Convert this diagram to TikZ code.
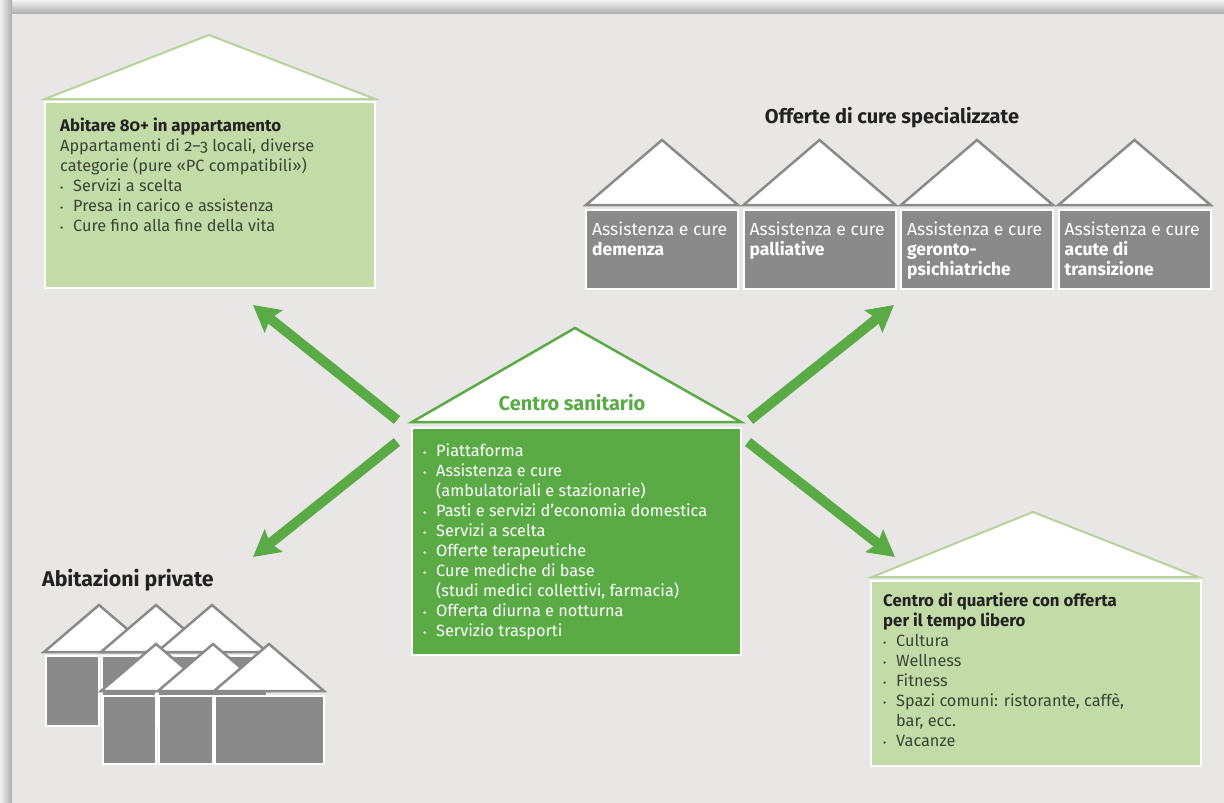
\documentclass[tikz,border=0pt]{standalone}
\usepackage{fontspec}
\setmainfont{Fira Sans}[Numbers=OldStyle]
\usetikzlibrary{arrows.meta,calc}
\definecolor{bgc}{HTML}{E8E7E5}
\definecolor{lgreen}{HTML}{C3DCA7}
\definecolor{lroofc}{HTML}{B5D39A}
\definecolor{dgreen}{HTML}{5AAB46}
\definecolor{grayc}{HTML}{8A8A8A}
\definecolor{bodytxt}{HTML}{3A4435}
\definecolor{titletxt}{HTML}{222222}
\newcommand{\bul}{\makebox[13pt][l]{\fontsize{10}{10}\selectfont\raisebox{0.5pt}{•}}}
\newcommand{\ind}{\hspace*{13pt}}
\newcommand{\grayhouse}[4]{%
  \node[gybox,minimum width=152pt,minimum height=79pt] (#1) at (#2,209) {};
  \draw[groof] ($(#1.north west)+(1,-4)$) -- ($(#1.north)+(0,-69)$) -- ($(#1.north east)+(-1,-4)$) -- cycle;
  \node[bodytext,text=white,font=\fontsize{17.5}{20}\selectfont] (#1txt) at ($(#1.north west)+(7,13)$) {Assistenza e cure\\\textbf{#3}\\\textbf{#4}};
}
\begin{document}
\begin{tikzpicture}[x=1pt,y=-1pt,
  lgbox/.style={fill=lgreen,draw=white,line width=2pt,rectangle,inner sep=0pt,anchor=north west},
  dgbox/.style={fill=dgreen,draw=white,line width=2pt,rectangle,inner sep=0pt,anchor=north west},
  gybox/.style={fill=grayc,draw=white,line width=2pt,rectangle,inner sep=0pt,anchor=north west},
  lroof/.style={fill=white,draw=lroofc,line width=2pt,line join=miter},
  droof/.style={fill=white,draw=dgreen,line width=2.5pt,line join=miter},
  groof/.style={fill=white,draw=grayc,line width=2.5pt,line join=miter},
  bodytext/.style={inner sep=0pt,anchor=north west,align=left,font=\fontsize{16.3}{20}\selectfont},
  bigtitle/.style={inner sep=0pt,font=\fontsize{20}{22}\selectfont\bfseries,text=titletxt},
  garrow/.style={draw=dgreen,line width=10pt,-{Stealth[length=26pt,width=28pt,inset=4pt]}}
]
\useasboundingbox (0,0) rectangle (1224,803);
% frame and background
\fill[bgc] (0,0) rectangle (1224,803);
\shade[top color=white!90!gray,bottom color=gray!65] (0,0) rectangle (1224,14);
\shade[left color=white!90!gray,right color=gray!65] (0,0) rectangle (12,803);
\fill[bgc] (12,14) rectangle (1224,803);

% ---------- Abitare 80+ ----------
\node[lgbox,minimum width=330pt,minimum height=186pt] (abit) at (44,101) {};
\coordinate (abitapex) at (209,35);
\draw[lroof] ($(abit.north west)+(1,-2)$) -- (abitapex) -- ($(abit.north east)+(-1,-2)$) -- cycle;
\node[bodytext,text=bodytxt] (abittxt) at (60,118)
 {{\fontsize{16.8}{20}\selectfont\bfseries\color{titletxt}Abitare 80+ in appartamento}\\
  Appartamenti di 2–3 locali, diverse\\
  categorie (pure «PC compatibili»)\\
  \bul Servizi a scelta\\
  \bul Presa in carico e assistenza\\
  \bul Cure fino alla fine della vita};

% ---------- Offerte di cure specializzate ----------
\node[bigtitle] (offtitle) at (892,118) {Offerte di cure specializzate};
\grayhouse{dem}{585}{demenza}{}
\grayhouse{pal}{742.5}{palliative}{}
\grayhouse{ger}{900}{geronto-}{psichiatriche}
\grayhouse{acu}{1057.5}{acute di}{transizione}

% ---------- Centro sanitario ----------
\node[dgbox,minimum width=329pt,minimum height=227pt] (cs) at (411,427) {};
\coordinate (csapex) at (575,328);
\draw[droof] ($(cs.north west)+(1,-5)$) -- (csapex) -- ($(cs.north east)+(-1,-5)$) -- cycle;
\node[inner sep=0pt,font=\fontsize{20}{22}\selectfont\bfseries,text=dgreen] (cstitle) at (572,403) {Centro sanitario};
\node[bodytext,text=white] (cstxt) at (423,444)
 {\bul Piattaforma\\
  \bul Assistenza e cure\\
  \ind (ambulatoriali e stazionarie)\\
  \bul Pasti e servizi d’economia domestica\\
  \bul Servizi a scelta\\
  \bul Offerte terapeutiche\\
  \bul Cure mediche di base\\
  \ind (studi medici collettivi, farmacia)\\
  \bul Offerta diurna e notturna\\
  \bul Servizio trasporti};

% ---------- Abitazioni private ----------
\node[bigtitle,anchor=west,font=\fontsize{21.3}{22}\selectfont\bfseries] (privtitle) at (42,580) {Abitazioni private};
% back row
\draw[groof] (44,652) -- (99,605) -- (154,652) -- cycle;
\draw[groof] (101,652) -- (156,605) -- (211,652) -- cycle;
\draw[groof] (157,652) -- (212,605) -- (267,652) -- cycle;
\node[gybox,minimum width=53pt,minimum height=70pt] (pb1) at (45,655) {};
\node[gybox,minimum width=54pt,minimum height=70pt] (pb2) at (101,655) {};
\node[gybox,minimum width=109pt,minimum height=70pt] (pb3) at (157,655) {};
% front row
\draw[groof] (101,691) -- (156,644) -- (211,691) -- cycle;
\draw[groof] (158,691) -- (213,644) -- (268,691) -- cycle;
\draw[groof] (214,691) -- (269,644) -- (324,691) -- cycle;
\node[gybox,minimum width=53pt,minimum height=68pt] (pf1) at (102,695) {};
\node[gybox,minimum width=54pt,minimum height=68pt] (pf2) at (158,695) {};
\node[gybox,minimum width=109pt,minimum height=68pt] (pf3) at (214,695) {};

% ---------- Centro di quartiere ----------
\node[lgbox,minimum width=330pt,minimum height=185pt] (cq) at (870,580) {};
\coordinate (cqapex) at (1033,512);
\draw[lroof] ($(cq.north west)+(2,-3)$) -- (cqapex) -- ($(cq.north east)+(-4,-3)$) -- cycle;
\node[bodytext,text=bodytxt] (cqtxt) at (883,593)
 {{\fontsize{16.8}{21}\selectfont\bfseries\color{titletxt}Centro di quartiere con offerta}\\
  {\fontsize{16.8}{21}\selectfont\bfseries\color{titletxt}per il tempo libero}\\
  \bul Cultura\\
  \bul Wellness\\
  \bul Fitness\\
  \bul Spazi comuni: ristorante, caffè,\\
  \ind bar, ecc.\\
  \bul Vacanze};

% ---------- arrows ----------
\coordinate (t1) at (397,420); \coordinate (h1) at (253,305);
\coordinate (t2) at (750,420); \coordinate (h2) at (894,305);
\coordinate (t3) at (397,442); \coordinate (h3) at (253,557);
\coordinate (t4) at (748,442); \coordinate (h4) at (895,557);
\draw[garrow] (t1) -- (h1);
\draw[garrow] (t2) -- (h2);
\draw[garrow] (t3) -- (h3);
\draw[garrow] (t4) -- (h4);
\end{tikzpicture}
\end{document}
